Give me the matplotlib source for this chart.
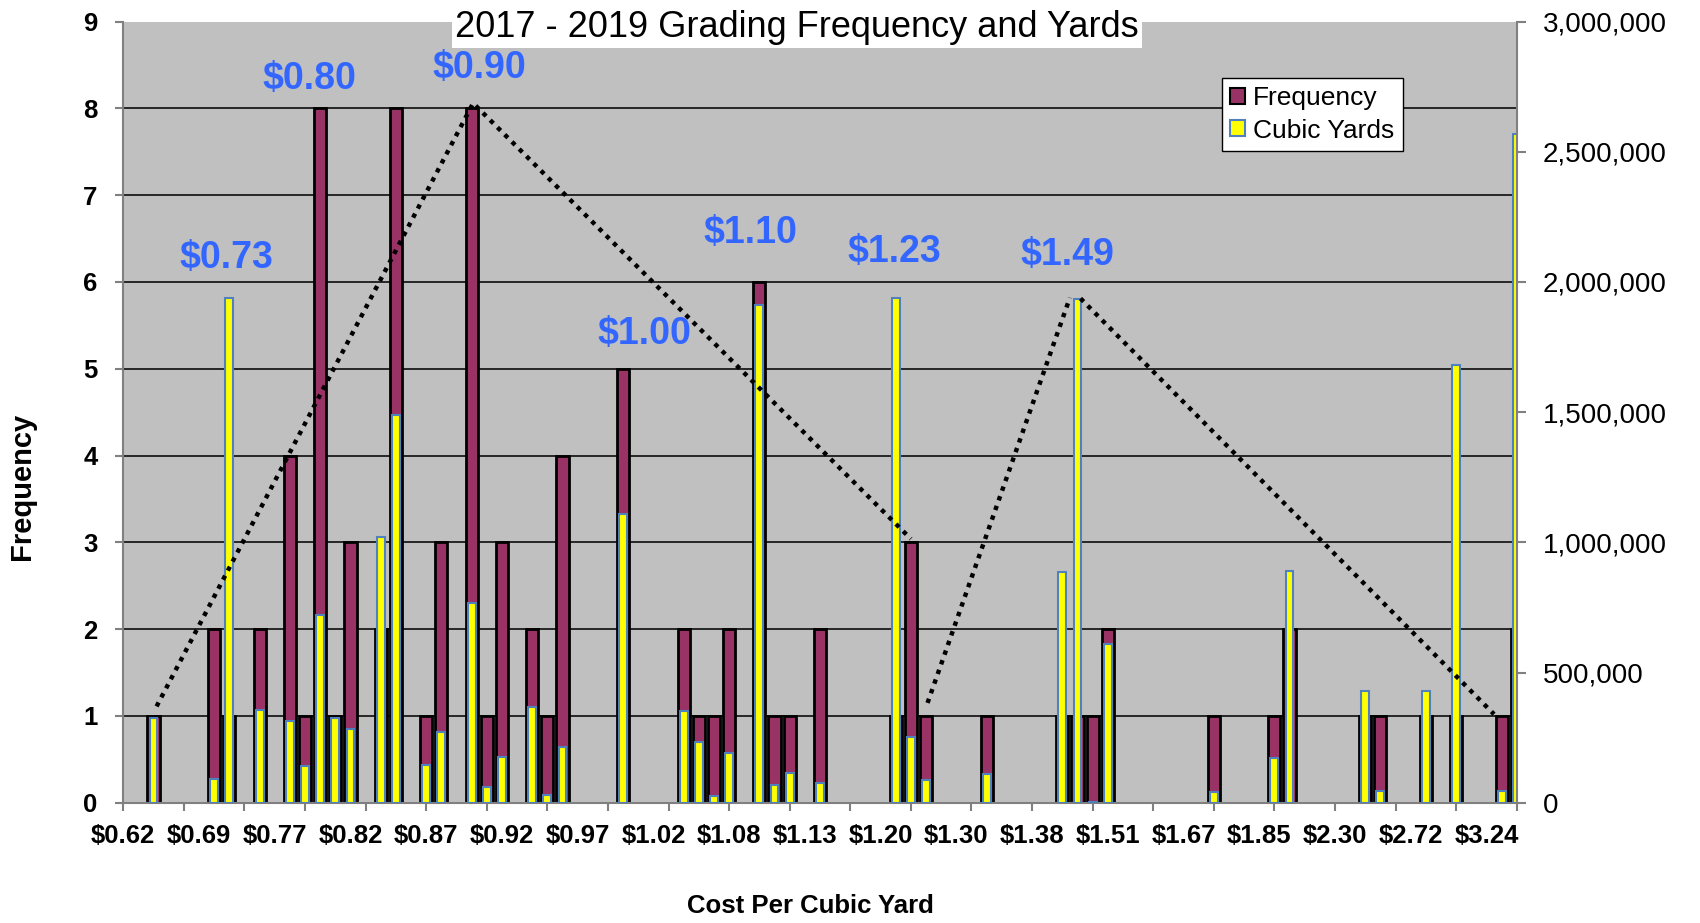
import numpy as np
import matplotlib
matplotlib.use("Agg")
import matplotlib.pyplot as plt
from matplotlib import font_manager as fm
from matplotlib.patches import Patch
from matplotlib.ticker import FuncFormatter

plt.rcParams['font.family'] = ['Liberation Sans', 'DejaVu Sans']
plt.rcParams['text.parse_math'] = False

# ── data ─────────────────────────────────────────────
# 93 cost categories on the axis, every 5th one is labelled
n_categories = 93
x_tick_labels = ['$0.62', '$0.69', '$0.77', '$0.82', '$0.87', '$0.92', '$0.97',
                 '$1.02', '$1.08', '$1.13', '$1.20', '$1.30', '$1.38', '$1.51',
                 '$1.67', '$1.85', '$2.30', '$2.72', '$3.24']

# category index of each cost that actually had jobs
slot = [2, 6, 7, 9, 11, 12, 13, 14, 15, 17, 18, 20, 21, 23, 24, 25, 27, 28, 29,
        33, 37, 38, 39, 40, 42, 43, 44, 46, 51, 52, 53, 57, 62, 63, 64, 65, 72,
        76, 77, 82, 83, 86, 88, 91, 92]
frequency = [1, 2, 1, 2, 4, 1, 8, 1, 3, 2, 8, 1, 3, 8, 1, 3, 2, 1, 4,
             5, 2, 1, 1, 2, 6, 1, 1, 2, 1, 3, 1, 1, 1, 1, 1, 2, 1,
             1, 2, 1, 1, 1, 1, 1, 2]
cubic_yards = [327000, 90000, 1937000, 355000, 313000, 140000, 722000, 327000,
               283000, 1022000, 1490000, 143000, 270000, 768000, 60000, 177000,
               367000, 29000, 213000, 1107000, 352000, 234000, 25000, 190000,
               1911000, 70000, 113000, 77000, 1937000, 253000, 87000, 112000,
               885000, 1935000, 4000, 610000, 42000, 173000, 890000, 428000,
               44000, 428000, 1681000, 44000, 2570000]

# median-cost callouts
peak_labels = ['$0.73', '$0.80', '$0.90', '$1.00', '$1.10', '$1.23', '$1.49']
peak_x = [6.83, 12.3, 23.48, 34.4, 41.4, 50.9, 62.36]
peak_y = [6.28, 8.34, 8.46, 5.40, 6.56, 6.34, 6.31]

# hand-drawn dotted trend shapes (category index, frequency)
trend_a_x, trend_a_y = [2.2, 23.1, 52.0], [1.11, 8.06, 3.04]
trend_b_x, trend_b_y = [53.1, 62.5], [1.15, 5.82]
trend_c_x, trend_c_y = [63.2, 90.5], [5.81, 1.02]

# ── fonts ────────────────────────────────────────────
names = {f.name for f in fm.fontManager.ttflist}
if 'Liberation Sans Narrow' in names:
    price_font = dict(family='Liberation Sans Narrow', weight='bold', size=32)
else:
    price_font = dict(family='Liberation Sans', weight='bold', size=27)

MAROON = '#993366'
YELLOW = '#FFFF00'
BLUE_EDGE = '#4F81BD'
GREY = '#808080'

fig = plt.figure(figsize=(17, 9.23), dpi=100)
ax = fig.add_axes([0.0725, 0.1303, 0.8197, 0.8463])
ax.set_facecolor('#C0C0C0')

ax.bar(slot, frequency, width=0.8, color=MAROON, edgecolor='black',
       linewidth=2, zorder=2)
ax.set_xlim(0, n_categories - 1)
ax.set_ylim(0, 9)
ax.set_yticks(range(10))
ax.yaxis.grid(True, color='#1a1a1a', linewidth=1.3)
ax.set_axisbelow(True)
gl = ax.get_ygridlines()
gl[0].set_visible(False)
gl[-1].set_visible(False)

# tick marks every 4 categories, labels every 5
ax.xaxis.remove_overlapping_locs = False
ax.set_xticks(np.arange(len(x_tick_labels)) * 5)
ax.set_xticklabels(x_tick_labels)
ax.set_xticks(np.arange(0, n_categories, 4), minor=True)
ax.tick_params(axis='x', which='major', length=0, pad=15, labelsize=18.5)
ax.tick_params(axis='x', which='minor', length=6, width=1.5, color=GREY,
               direction='out')
ax.tick_params(axis='y', length=6, width=1.5, color=GREY, pad=12.5,
               labelsize=18.5)
for lbl in ax.get_xticklabels() + ax.get_yticklabels():
    lbl.set_fontweight('bold')

for s in ['top', 'right']:
    ax.spines[s].set_visible(False)
for s in ['left', 'bottom']:
    ax.spines[s].set_color(GREY)
    ax.spines[s].set_linewidth(1.5)

# secondary axis: cubic yards
ax2 = ax.twinx()
ax2.bar(slot, cubic_yards, width=0.52, color=YELLOW, edgecolor=BLUE_EDGE,
        linewidth=1.5, zorder=2)
ax2.set_xlim(0, n_categories - 1)
ax2.set_ylim(0, 3000000)
ax2.set_yticks(np.arange(0, 3000001, 500000))
ax2.yaxis.set_major_formatter(FuncFormatter(lambda v, p: f'{int(v):,}'))
ax2.tick_params(axis='y', length=6.5, width=1.5, color=GREY, pad=12,
                labelsize=20)
for s in ['top', 'left', 'bottom']:
    ax2.spines[s].set_visible(False)
ax2.spines['right'].set_color(GREY)
ax2.spines['right'].set_linewidth(1.5)

# dotted shapes and callouts (in frequency units)
for tx, ty in [(trend_a_x, trend_a_y), (trend_b_x, trend_b_y), (trend_c_x, trend_c_y)]:
    ax2.plot(tx, ty, transform=ax.transData, color='black', linewidth=3.2,
             linestyle=(0, (1, 1.3)), zorder=6, clip_on=False)

for lab, px, py in zip(peak_labels, peak_x, peak_y):
    ax2.text(px, py, lab, transform=ax.transData, ha='center', va='center',
             color='#3366FF', zorder=7, **price_font)

handles = [Patch(facecolor=MAROON, edgecolor='black', linewidth=1.5, label='Frequency'),
           Patch(facecolor=YELLOW, edgecolor=BLUE_EDGE, linewidth=1.5, label='Cubic Yards')]
leg = ax2.legend(handles=handles, loc='upper left', bbox_to_anchor=(0.7885, 0.928),
                 fontsize=19, frameon=True, fancybox=False, edgecolor='black',
                 framealpha=1, borderpad=0.32, labelspacing=0.32,
                 handlelength=0.55, handleheight=0.55, handletextpad=0.3,
                 borderaxespad=0)
leg.get_frame().set_linewidth(1.0)
leg.set_zorder(8)

fig.text(0.4688, 0.9707, '2017 - 2019 Grading Frequency and Yards',
         ha='center', va='center', fontsize=26,
         bbox=dict(facecolor='white', edgecolor='none', pad=2.5))
fig.text(0.0129, 0.4735, 'Frequency', rotation=90, ha='center', va='center',
         fontsize=21, fontweight='bold')
fig.text(0.477, 0.0184, 'Cost Per Cubic Yard', ha='center', va='center',
         fontsize=18.5, fontweight='bold')

fig.savefig('out.png', dpi=100)
